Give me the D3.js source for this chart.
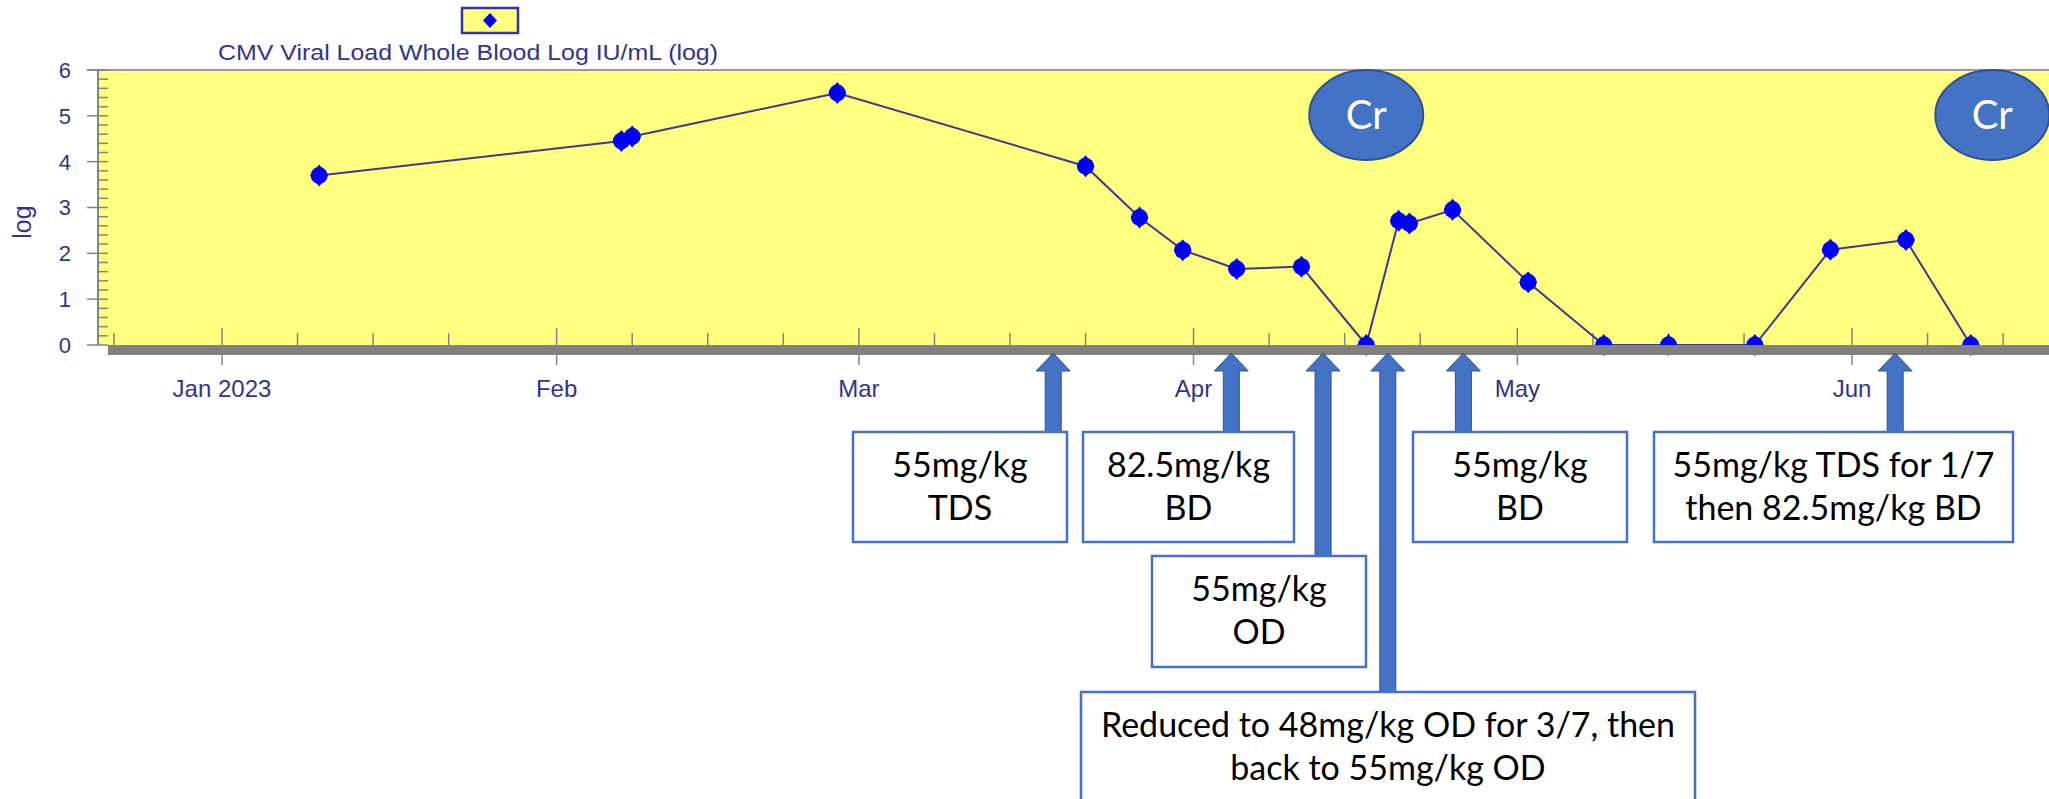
<!DOCTYPE html>
<html><head><meta charset="utf-8">
<script src="https://cdn.jsdelivr.net/npm/d3@7"></script>
<style>html,body{margin:0;padding:0;background:#fff;overflow:hidden}</style>
</head><body>
<svg id="chart" width="2049" height="799"></svg>
<script>
// ---------- data ----------
const dates = ["2023-01-10","2023-02-07","2023-02-08","2023-02-27","2023-03-22","2023-03-27","2023-03-31","2023-04-05","2023-04-11","2023-04-17","2023-04-20","2023-04-21","2023-04-25","2023-05-02","2023-05-09","2023-05-15","2023-05-23","2023-05-30","2023-06-06","2023-06-12"];
const viralLoad = [3.7,4.45,4.55,5.5,3.9,2.78,2.07,1.66,1.71,0,2.71,2.65,2.95,1.37,0,0,0,2.08,2.29,0];
const yTicks = [0,1,2,3,4,5,6];
const monthLabels = ["Jan 2023","Feb","Mar","Apr","May","Jun"];
const seriesName = "CMV Viral Load Whole Blood Log IU/mL (log)";
const yLabel = "log";
const doseDates = ["2023-03-19T00:00Z","2023-04-04T12:00Z","2023-04-13T00:00Z","2023-04-19T00:00Z","2023-04-26T00:00Z","2023-06-05T00:00Z"];
const doseText = [["55mg/kg","TDS"],["82.5mg/kg","BD"],["55mg/kg","OD"],["Reduced to 48mg/kg OD for 3/7, then","back to 55mg/kg OD"],["55mg/kg","BD"],["55mg/kg TDS for 1/7","then 82.5mg/kg BD"]];
const crDates = ["2023-04-17T00:00Z","2023-06-14T00:00Z"];
const crLabel = "Cr";

// ---------- layout ----------
const parse = d3.utcParse("%Y-%m-%d");
const iso = d3.isoParse;
const svg = d3.select("#chart");
const x = d3.scaleUtc().domain([parse("2023-01-01"), parse("2023-06-01")]).range([222, 1852]);
const y = d3.scaleLinear().domain([0, 6]).range([345, 70]);
const plotL = 98, plotR = 2049, plotT = y(6), plotB = y(0);
const axisGray = "#858585", textBlue = "#33338f";
const boxLayout = [
  {x0: 853, x1: 1067, top: 432, bot: 542},
  {x0: 1083, x1: 1294, top: 432, bot: 542},
  {x0: 1152, x1: 1366, top: 556, bot: 667},
  {x0: 1081, x1: 1695, top: 692, bot: 830},
  {x0: 1413, x1: 1627, top: 432, bot: 542},
  {x0: 1654, x1: 2013, top: 432, bot: 542}
];

// plot background
svg.append("rect").attr("x", plotL).attr("y", plotT).attr("width", plotR - plotL).attr("height", plotB - plotT).attr("fill", "#ffff80");

// y axis
svg.append("line").attr("x1", plotL).attr("x2", plotL).attr("y1", plotT).attr("y2", plotB).attr("stroke", axisGray).attr("stroke-width", 2);
svg.append("line").attr("x1", 87).attr("x2", plotR).attr("y1", plotT).attr("y2", plotT).attr("stroke", "#9a9a9a").attr("stroke-width", 2);
const yMinor = d3.range(1, 30).map(i => i * 0.2).filter(v => Math.abs(v - Math.round(v)) > 1e-6);
svg.append("g").selectAll("line").data(yMinor).join("line")
  .attr("x1", plotL).attr("x2", plotL + 10).attr("y1", d => y(d)).attr("y2", d => y(d))
  .attr("stroke", axisGray).attr("stroke-width", 1.5);
svg.append("g").selectAll("line").data(yTicks).join("line")
  .attr("x1", 87).attr("x2", plotL + 10).attr("y1", d => y(d)).attr("y2", d => y(d))
  .attr("stroke", axisGray).attr("stroke-width", 1.5);
svg.append("g").selectAll("text").data(yTicks).join("text")
  .attr("x", 71).attr("y", d => y(d)).attr("dy", "0.36em").attr("text-anchor", "end")
  .attr("font-family", "Liberation Sans, Arial, sans-serif").attr("font-size", 22).attr("fill", textBlue)
  .text(d => d);
svg.append("text").attr("transform", "translate(31,222) rotate(-90)").attr("text-anchor", "middle")
  .attr("font-family", "Liberation Sans, Arial, sans-serif").attr("font-size", 25).attr("fill", textBlue).text(yLabel);

// x ticks
const dStart = x.invert(plotL), dEnd = x.invert(plotR);
const months = d3.utcMonth.range(d3.utcMonth.ceil(dStart), dEnd);
const minorDays = d3.utcDay.range(dStart, dEnd).filter(d => [8, 15, 22].includes(d.getUTCDate()));
svg.append("g").selectAll("line").data(minorDays).join("line")
  .attr("x1", d => x(d)).attr("x2", d => x(d)).attr("y1", plotB - 12).attr("y2", plotB)
  .attr("stroke", axisGray).attr("stroke-width", 1.5);

// series line + markers
const pts = dates.map((d, i) => ({date: parse(d), v: viralLoad[i]}));
svg.append("path").datum(pts)
  .attr("d", d3.line().x(d => x(d.date)).y(d => y(d.v)))
  .attr("fill", "none").attr("stroke", "#3b3b8f").attr("stroke-width", 2);
const mk = svg.append("g").selectAll("g").data(pts).join("g")
  .attr("transform", d => `translate(${x(d.date)},${y(d.v)})`).attr("fill", "#0000ff");
mk.append("circle").attr("r", 8.5);
mk.append("path").attr("d", "M0,-11L9,0L0,11L-9,0Z");

// bottom bar
svg.append("rect").attr("x", 108).attr("y", plotB).attr("width", plotR - 108).attr("height", 10).attr("fill", "#808080");
svg.append("g").selectAll("line").data(months).join("line")
  .attr("x1", d => x(d)).attr("x2", d => x(d)).attr("y1", plotB - 17).attr("y2", plotB + 20)
  .attr("stroke", axisGray).attr("stroke-width", 1.5);
svg.append("g").selectAll("text").data(months).join("text")
  .attr("x", d => x(d)).attr("y", 397).attr("text-anchor", "middle")
  .attr("font-family", "Liberation Sans, Arial, sans-serif").attr("font-size", 24).attr("fill", textBlue)
  .text((d, i) => monthLabels[i]);

// legend
svg.append("rect").attr("x", 462).attr("y", 8).attr("width", 56).attr("height", 25)
  .attr("fill", "#ffff80").attr("stroke", "#3333aa").attr("stroke-width", 2.5);
svg.append("path").attr("d", "M490,13L497,20.5L490,28L483,20.5Z").attr("fill", "#0000ff");
svg.append("text").attr("x", 218).attr("y", 60)
  .attr("font-family", "Liberation Sans, Arial, sans-serif").attr("font-size", 22).attr("fill", textBlue)
  .attr("textLength", 500).attr("lengthAdjust", "spacingAndGlyphs")
  .text(seriesName);

// Cr ellipses
const cr = svg.append("g").selectAll("g").data(crDates).join("g")
  .attr("transform", d => `translate(${x(iso(d))},115)`);
cr.append("ellipse").attr("rx", 57).attr("ry", 45).attr("fill", "#4472c4").attr("stroke", "#2f528f").attr("stroke-width", 2);
cr.append("text").attr("text-anchor", "middle").attr("dy", "0.36em")
  .attr("font-family", "Lato, 'Open Sans', sans-serif").attr("font-size", 40).attr("fill", "#fff").text(crLabel);

// dose arrows and boxes
doseDates.forEach((d, i) => {
  const cx = x(iso(d)), b = boxLayout[i];
  const tip = plotB + 8, base = tip + 18, sw = 8, hw = 17;
  svg.append("path")
    .attr("d", `M${cx},${tip}L${cx + hw},${base}L${cx + sw},${base}L${cx + sw},${b.top}L${cx - sw},${b.top}L${cx - sw},${base}L${cx - hw},${base}Z`)
    .attr("fill", "#4472c4").attr("stroke", "#2f528f").attr("stroke-width", 1);
  svg.append("rect").attr("x", b.x0).attr("y", b.top).attr("width", b.x1 - b.x0).attr("height", b.bot - b.top)
    .attr("fill", "#fff").attr("stroke", "#4472c4").attr("stroke-width", 2.5);
  doseText[i].forEach((t, j) => {
    svg.append("text").attr("x", (b.x0 + b.x1) / 2).attr("y", b.top + 45 + j * 43).attr("text-anchor", "middle")
      .attr("font-family", "Lato, 'Open Sans', sans-serif").attr("font-size", 34).attr("fill", "#000").text(t);
  });
});
</script>
</body></html>
